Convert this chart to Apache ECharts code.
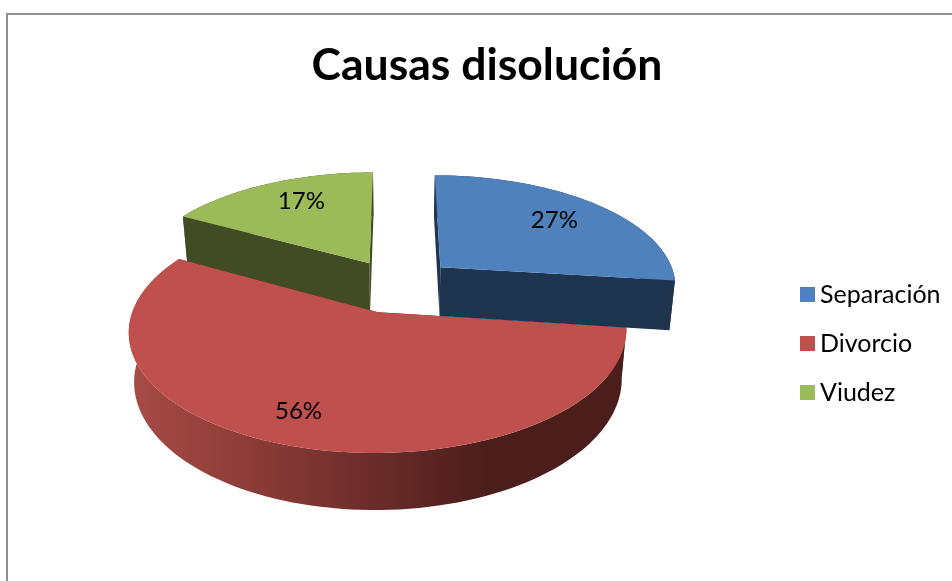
<!DOCTYPE html>
<html>
<head>
<meta charset="utf-8">
<style>
    html, body { margin: 0; padding: 0; background: #fff; }
    #chart { width: 952px; height: 581px; }
</style>
<script src="https://cdn.jsdelivr.net/npm/echarts@6/dist/echarts.min.js"></script>
</head>
<body>
<div id="chart"></div>
<script>
// datos
const categories = ['Separación', 'Divorcio', 'Viudez'];
const values = [27, 56, 17];

// colores
const topColors = ['#4f81bd', '#c0504d', '#9bbb59'];
const wallColors = ['#1f344f', '#4b1e1c', '#414c24'];

// orden de pintado (atras -> adelante), separacion, grosor de cada porcion y etiqueta
const drawOrder = [3, 2, 1];
const explode = [0.25, 0.25, 0.235];
const depth = [50, 46.5, 51];
const labelRadius = [0.7, 0.8, 0.7];
const labelShift = [[3, -1], [-8, -4], [5, -4]];

// proyeccion del plano de la tarta
const cx = 397, cy = 285;
const radX = 237, radY = 110.5;
const persp = 0.15;
const depthShrink = 0.02;

const total = values.reduce((a, b) => a + b, 0);

function project(px, py, z) {
    const d = 1 - persp * py;
    return [
        cx + radX * px * (1 - depthShrink * (z ? 1 : 0)) / d,
        cy + (radY * py + z) / d
    ];
}

// punto de una porcion desplazada (angulo desde las 12, horario)
function slicePoint(off, t, r, z) {
    return project(off[0] + Math.sin(t) * r, off[1] - Math.cos(t) * r, z);
}

function arcPoints(off, a0, a1, z) {
    let pts = [];
    let n = Math.max(2, Math.ceil((a1 - a0) / (Math.PI / 90)));
    for (let i = 0; i <= n; i++) {
        pts.push(slicePoint(off, a0 + (a1 - a0) * i / n, 1, z));
    }
    return pts;
}

function renderSlice(index) {
    return function (params, api) {
        let before = 0;
        for (let i = 0; i < index; i++) before += values[i];
        const a0 = before / total * Math.PI * 2;
        const a1 = (before + api.value(0)) / total * Math.PI * 2;
        const mid = (a0 + a1) / 2;
        const off = [Math.sin(mid) * explode[index], -Math.cos(mid) * explode[index]];

        const topArc = arcPoints(off, a0, a1, 0);
        const lowArc = arcPoints(off, a0, a1, depth[index]);
        const apexTop = project(off[0], off[1], 0);
        const apexLow = project(off[0], off[1], depth[index]);

        // la pared exterior de Divorcio lleva degradado, las otras son planas
        let wallFill = wallColors[index];
        if (index === 1) {
            wallFill = new echarts.graphic.LinearGradient(0, 0, 1, 0, [
                { offset: 0, color: '#a84b47' },
                { offset: 0.35, color: '#7f3532' },
                { offset: 0.72, color: '#4b1e1c' },
                { offset: 1, color: '#4b1e1c' }
            ]);
        }

        const labelPos = slicePoint(off, mid, labelRadius[index], 0);
        return {
            type: 'group',
            children: [
                { type: 'polygon', shape: { points: topArc.concat(lowArc.slice().reverse()) }, style: { fill: wallFill } },
                { type: 'polygon', shape: { points: [apexTop, topArc[0], lowArc[0], apexLow] }, style: { fill: wallColors[index] } },
                { type: 'polygon', shape: { points: [apexTop, topArc[topArc.length - 1], lowArc[lowArc.length - 1], apexLow] }, style: { fill: wallColors[index] } },
                { type: 'polygon', shape: { points: [apexTop].concat(topArc) }, style: { fill: topColors[index] } },
                {
                    type: 'text',
                    z2: 10,
                    style: {
                        text: Math.round(api.value(0) / total * 100) + '%',
                        x: labelPos[0] + labelShift[index][0],
                        y: labelPos[1] + labelShift[index][1],
                        align: 'center',
                        verticalAlign: 'middle',
                        font: '24px Lato',
                        fill: '#000'
                    }
                }
            ]
        };
    };
}

let chart = echarts.init(document.getElementById('chart'), null, { renderer: 'canvas' });
chart.setOption({
    animation: false,
    backgroundColor: '#fff',
    color: topColors,
    title: {
        text: 'Causas disolución',
        left: 482,
        top: 38,
        textAlign: 'center',
        textStyle: { fontFamily: 'Lato', fontWeight: 'bold', fontSize: 44.5, color: '#000' }
    },
    legend: {
        orient: 'vertical',
        left: 795,
        top: 277,
        icon: 'rect',
        itemWidth: 15,
        itemHeight: 15,
        itemGap: 24,
        selectedMode: false,
        data: categories,
        textStyle: { fontFamily: 'Lato', fontSize: 25, color: '#000', padding: [0, 0, 0, 0] }
    },
    graphic: [{
        type: 'rect',
        silent: true,
        z: -1,
        shape: { x: 7, y: 14, width: 970, height: 600 },
        style: { fill: 'none', stroke: '#8e8e8e', lineWidth: 2 }
    }],
    series: categories.map((name, i) => ({
        type: 'custom',
        name: name,
        coordinateSystem: 'none',
        silent: true,
        z: drawOrder[i],
        renderItem: renderSlice(i),
        data: [[values[i]]]
    }))
});
</script>
</body>
</html>
